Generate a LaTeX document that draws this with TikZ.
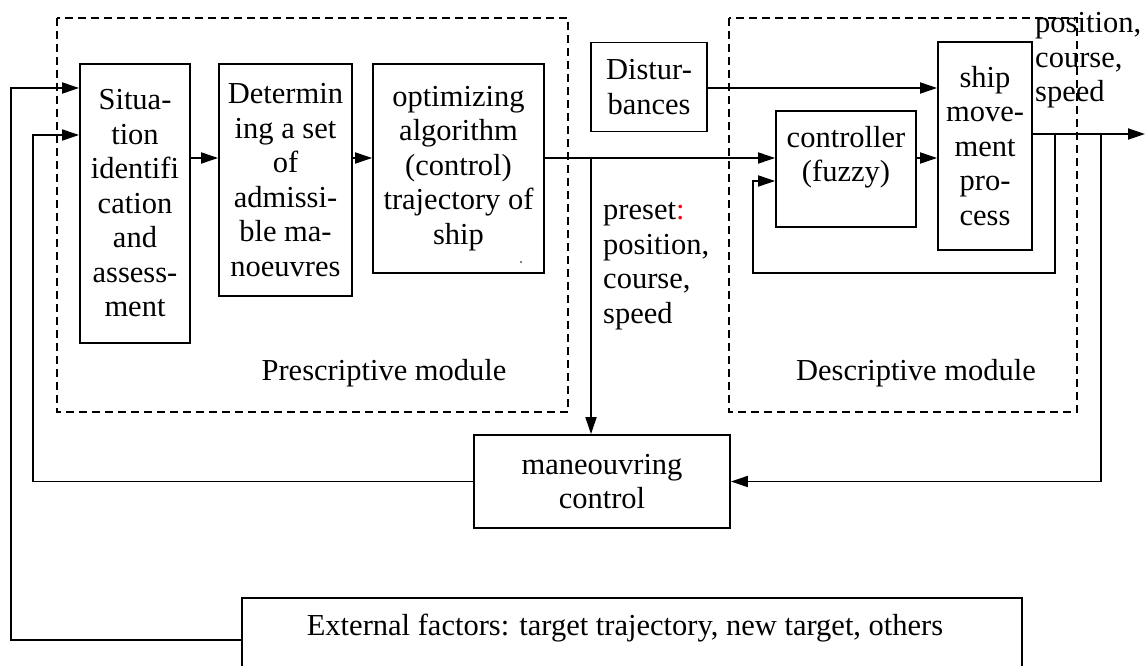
\documentclass[tikz,border=0pt]{standalone}
\usepackage{fontspec}
\setmainfont{Liberation Serif}
\usetikzlibrary{arrows.meta}
\begin{document}
\begin{tikzpicture}[x=1pt,y=-1pt,
  every node/.style={font=\fontsize{30.5}{34.5}\selectfont},
  box/.style={draw,line width=1.8pt,inner sep=0pt,align=center},
  modbox/.style={draw,line width=1.5pt,dash pattern=on 8pt off 5pt},
  conn/.style={line width=1.8pt},
  arr/.style={conn,-{Triangle[length=17pt,width=11pt]}},
  lbl/.style={inner sep=0pt,align=left,anchor=base west}]
\clip (0,0) rectangle (1145,666);
\fill[white] (0,0) rectangle (1145,666);
% module frames
\draw[modbox] (57,18) rectangle (568,412);
\draw[modbox] (729,18) rectangle (1077,412);
\node (prlab) at (384,373) {Prescriptive module};
\node (delab) at (916,373) {Descriptive module};
% blocks
\node[box,minimum width=110pt,minimum height=279pt] (sit) at (135,203.5)
  {Situa-\\tion\\identifi\\cation\\and\\assess-\\ment};
\node[box,minimum width=133pt,minimum height=232pt] (det) at (285.5,180)
  {Determin\\ing a set\\of\\admissi-\\ble ma-\\noeuvres};
\node[box,minimum width=171pt,minimum height=209pt] (opt) at (458.5,168.5)
  {optimizing\\algorithm\\(control)\\trajectory of\\ship};
\fill (521,262) circle (0.9pt);
\node[box,minimum width=116pt,minimum height=89pt] (dist) at (649,87)
  {Distur-\\bances};
\node[box,minimum width=140pt,minimum height=116pt] (ctrl) at (846,169) {};
\node[align=center] (ctrltxt) at (846,157) {controller\\(fuzzy)};
\node[box,minimum width=94pt,minimum height=208pt] (ship) at (985,146)
  {ship\\move-\\ment\\pro-\\cess};
\node[box,minimum width=256pt,minimum height=93pt] (man) at (602,481.5)
  {maneouvring\\control};
\node[box,minimum width=780pt,minimum height=80pt] (ext) at (632,638) {};
\node (exttxt) at (625,628) {External factors: target trajectory, new target, others};
% labels
\node[lbl] (preset) at (603,323) {preset{\color{red}:}\\position,\\course,\\speed};
\node[lbl] (pcs) at (1035,102) {position,\\course,\\speed};
% waypoints
\coordinate (r1) at (0,158);
\coordinate (a1) at (11,88);
\coordinate (a2) at (33,135);
\coordinate (b1) at (591,158);
\coordinate (dd) at (0,88);
\coordinate (out) at (1145,134);
\coordinate (f1) at (1055,134);
\coordinate (f2) at (1101,134);
\coordinate (f3) at (753,273);
\coordinate (f4) at (0,181);
% connectors
\draw[arr] (ext.west |- 0,640) -| (a1) -- (sit.west |- a1);
\draw[arr] (man.west) -| (a2) -- (sit.west |- a2);
\draw[arr] (sit.east |- r1) -- (det.west |- r1);
\draw[arr] (det.east |- r1) -- (opt.west |- r1);
\draw[arr] (opt.east |- r1) -- (ctrl.west |- r1);
\draw[arr] (b1) -- (man.north -| b1);
\draw[arr] (dist.east |- dd) -- (ship.west |- dd);
\draw[arr] (ctrl.east |- r1) -- (ship.west |- r1);
\draw[arr] (ship.east |- out) -- (out);
\draw[arr] (f1) |- (f3) |- (ctrl.west |- f4);
\draw[arr] (f2) |- (man.east);
\end{tikzpicture}
\end{document}
